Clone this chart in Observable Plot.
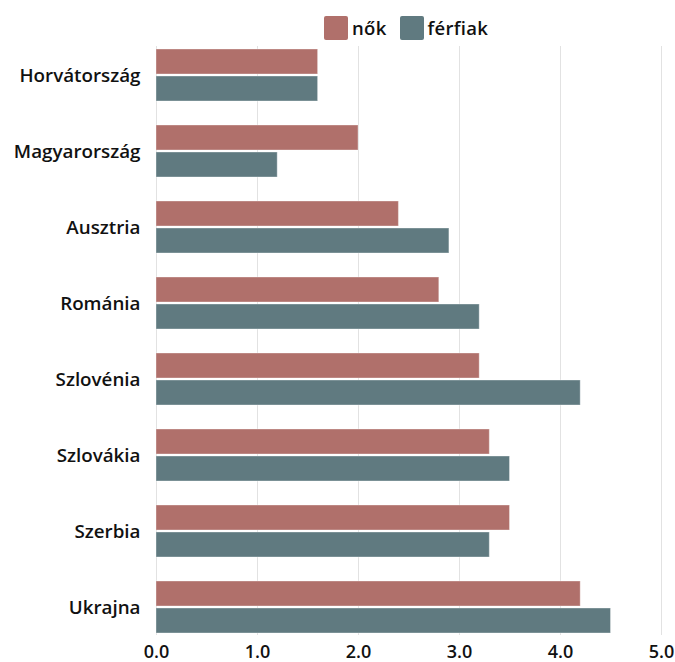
<!DOCTYPE html>
<html>
<head>
<meta charset="utf-8">
<script src="https://cdn.jsdelivr.net/npm/d3@7"></script>
<script src="https://cdn.jsdelivr.net/npm/@observablehq/plot@0.6"></script>
<style>
  body { margin: 0; background: #fff; font-family: "Open Sans", sans-serif; }
  #wrap { position: relative; width: 675px; height: 662px; }
  #legend { position: absolute; top: 15px; left: 324px; display: flex; align-items: center; font-size: 18.5px; font-weight: 600; color: #111; letter-spacing: 0.3px; }
  #legend .item { display: flex; align-items: center; margin-right: 13px; }
  #legend .sw { width: 24px; height: 24px; border-radius: 2px; margin-right: 4px; }
</style>
</head>
<body>
<div id="wrap">
  <div id="chart"></div>
  <div id="legend"></div>
</div>
<script>
const countries = ["Horvátország","Magyarország","Ausztria","Románia","Szlovénia","Szlovákia","Szerbia","Ukrajna"];
const series = ["nők","férfiak"];
const colors = ["#b0706b","#607a80"];
const nok = [1.6, 2.0, 2.4, 2.8, 3.2, 3.3, 3.5, 4.2];
const ferfiak = [1.6, 1.2, 2.9, 3.2, 4.2, 3.5, 3.3, 4.5];
const xTicks = [0, 1, 2, 3, 4, 5];

const dataN = countries.map((c, i) => ({country: c, series: series[0], value: nok[i]}));
const dataF = countries.map((c, i) => ({country: c, series: series[1], value: ferfiak[i]}));

const half = 26;

const chart = Plot.plot({
  width: 675,
  height: 662,
  marginTop: 46,
  marginBottom: 27,
  marginLeft: 156,
  marginRight: 14,
  style: {fontFamily: "Open Sans, sans-serif", background: "#fff"},
  x: {domain: [0, 5], ticks: xTicks, label: null},
  y: {domain: countries, paddingInner: 0.32, paddingOuter: 0.02, label: null},
  color: {domain: series, range: colors},
  marks: [
    Plot.gridX(xTicks, {stroke: "#e2e2e2", strokeOpacity: 1}),
    Plot.barX(dataN, {y: "country", x: "value", fill: "series", insetBottom: half + 1, stroke: "#fff", strokeOpacity: 0.35, strokeWidth: 1}),
    Plot.barX(dataF, {y: "country", x: "value", fill: "series", insetTop: half + 1, stroke: "#fff", strokeOpacity: 0.35, strokeWidth: 1}),
    Plot.axisY({tickSize: 0, tickPadding: 16, fontSize: 18.8, fontWeight: 600, fill: "#111", style: {letterSpacing: "0.4px"}}),
    Plot.axisX(xTicks, {tickSize: 0, tickPadding: 10, fontSize: 18, fontWeight: 600, fill: "#111", tickFormat: d => d.toFixed(1), style: {letterSpacing: "0.3px"}})
  ]
});
document.getElementById("chart").appendChild(chart);

const legend = document.getElementById("legend");
series.forEach((s, i) => {
  const it = document.createElement("div");
  it.className = "item";
  const sw = document.createElement("div");
  sw.className = "sw";
  sw.style.background = colors[i];
  const t = document.createElement("span");
  t.textContent = s;
  it.appendChild(sw);
  it.appendChild(t);
  legend.appendChild(it);
});
</script>
</body>
</html>
